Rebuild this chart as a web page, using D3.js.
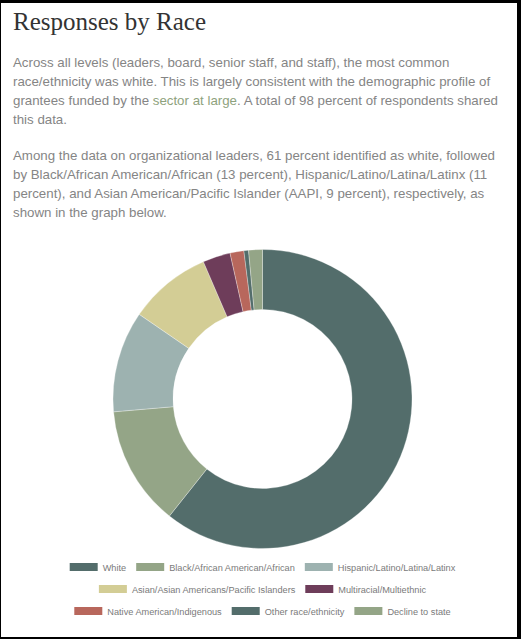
<!DOCTYPE html>
<meta charset="utf-8">
<head>
<script src="https://d3js.org/d3.v7.min.js"></script>
<style>
  body { margin: 0; background: #fff; }
  svg { display: block; }
  .title { font: 25px "Liberation Serif", serif; fill: #333; }
  .para { font: 13.3px "Liberation Sans", Arial, sans-serif; fill: #858585; }
  .link { fill: #8ea27d; }
  .legend text { font: 9.2px "Liberation Sans", Arial, sans-serif; fill: #7a7a7a; }
</style>
</head>
<body>
<script>

// data
var categories = ["White", "Black/African American/African", "Hispanic/Latino/Latina/Latinx",
  "Asian/Asian Americans/Pacific Islanders", "Multiracial/Multiethnic",
  "Native American/Indigenous", "Other race/ethnicity", "Decline to state"];
var values = [61, 13, 11, 9, 3, 1.5, 0.5, 1.5];
var colors = ["#536d6b", "#94a587", "#9db2b0", "#d3cd95", "#6e3d5a", "#b8675c", "#536d6b", "#94a587"];
var legendRows = [[0, 1, 2], [3, 4], [5, 6, 7]];

var para1 = [
  ["Across all levels (leaders, board, senior staff, and staff), the most common"],
  ["race/ethnicity was white. This is largely consistent with the demographic profile of"],
  ["grantees funded by the ", "sector at large", ". A total of 98 percent of respondents shared"],
  ["this data."]
];
var para2 = [
  ["Among the data on organizational leaders, 61 percent identified as white, followed"],
  ["by Black/African American/African (13 percent), Hispanic/Latino/Latina/Latinx (11"],
  ["percent), and Asian American/Pacific Islander (AAPI, 9 percent), respectively, as"],
  ["shown in the graph below."]
];

var W = 521, H = 639;
var svg = d3.select("body").append("svg")
    .attr("width", W)
    .attr("height", H);

// frame
svg.append("rect").attr("x", 0).attr("y", 0).attr("width", W).attr("height", H).attr("fill", "#000");
svg.append("rect").attr("x", 1).attr("y", 3).attr("width", W - 5).attr("height", H - 5).attr("fill", "#fff");

// title
svg.append("text")
    .attr("class", "title")
    .attr("x", 13)
    .attr("y", 30)
    .text("Responses by Race");

// paragraphs
function drawPara(lines, y0) {
  lines.forEach(function(parts, i) {
    var t = svg.append("text")
        .attr("class", "para")
        .attr("x", 13)
        .attr("y", y0 + i * 19);
    parts.forEach(function(p, j) {
      t.append("tspan")
          .attr("class", (parts.length > 1 && j === 1) ? "link" : null)
          .text(p);
    });
  });
}
drawPara(para1, 67);
drawPara(para2, 160);

// donut
var cx = 262.5, cy = 399, outerR = 149.5, innerR = 89.5;

var pie = d3.pie().sort(null).value(function(d) { return d; });
var arc = d3.arc().innerRadius(innerR).outerRadius(outerR);

var g = svg.append("g").attr("transform", "translate(" + cx + "," + cy + ")");
g.selectAll("path")
    .data(pie(values))
  .enter().append("path")
    .attr("d", arc)
    .attr("fill", function(d, i) { return colors[i]; })
    .attr("stroke", "#fff")
    .attr("stroke-width", 0.3);

// legend
var legend = svg.append("g").attr("class", "legend");
var rowY = [567, 589, 611];
var sw = 28, gapText = 5, gapItem = 10;

legendRows.forEach(function(row, r) {
  var rg = legend.append("g");
  var x = 0;
  row.forEach(function(idx) {
    rg.append("rect")
        .attr("x", x)
        .attr("y", -4)
        .attr("width", sw)
        .attr("height", 8)
        .attr("fill", colors[idx]);
    var t = rg.append("text")
        .attr("x", x + sw + gapText)
        .attr("y", 3.5)
        .text(categories[idx]);
    x += sw + gapText + t.node().getComputedTextLength() + gapItem;
  });
  var total = x - gapItem;
  rg.attr("transform", "translate(" + (cx - total / 2) + "," + rowY[r] + ")");
});

</script>
</body>
